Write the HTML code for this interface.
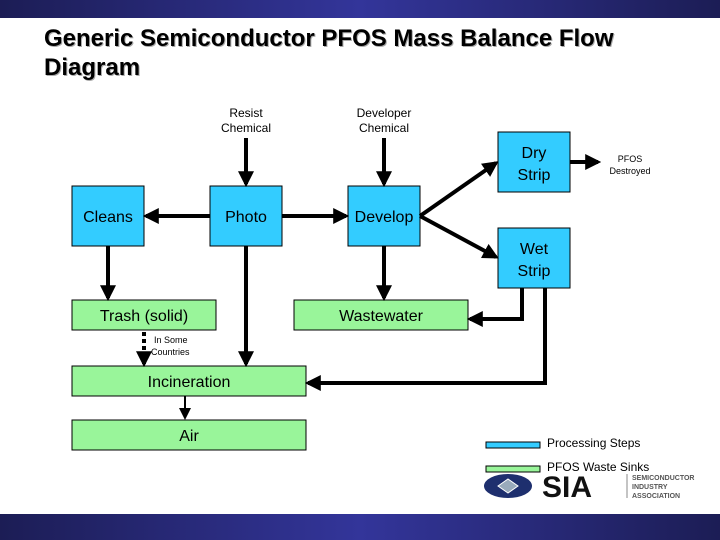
<!DOCTYPE html>
<html><head><meta charset="utf-8"><style>
html,body{margin:0;padding:0;background:#fff;}
svg{display:block;font-family:"Liberation Sans",Arial,sans-serif;}
</style></head><body>
<svg width="720" height="540" viewBox="0 0 720 540" xmlns="http://www.w3.org/2000/svg">
<defs>
<linearGradient id="bar" x1="0" x2="1" y1="0" y2="0">
<stop offset="0" stop-color="#1c1d55"/><stop offset="0.5" stop-color="#33359a"/><stop offset="1" stop-color="#1c1d55"/>
</linearGradient>
<marker id="a" markerWidth="4" markerHeight="4" refX="3.2" refY="2" orient="auto" markerUnits="strokeWidth"><path d="M0,0 L4,2 L0,4 z" fill="#000"/></marker>
<marker id="s" markerWidth="6" markerHeight="6" refX="5" refY="3" orient="auto" markerUnits="strokeWidth"><path d="M0,0 L6,3 L0,6 z" fill="#000"/></marker>
</defs>
<rect x="0" y="0" width="720" height="18" fill="url(#bar)"/>
<rect x="0" y="514" width="720" height="26" fill="url(#bar)"/>
<g font-size="24" font-weight="bold">
<text x="45" y="47" fill="#aaa">Generic Semiconductor PFOS Mass Balance Flow</text>
<text x="45" y="76" fill="#aaa">Diagram</text>
<text x="44" y="46" fill="#000">Generic Semiconductor PFOS Mass Balance Flow</text>
<text x="44" y="75" fill="#000">Diagram</text>
</g>

<g stroke="#000" stroke-width="1">
<rect x="72" y="186" width="72" height="60" fill="#33ccff"/>
<rect x="210" y="186" width="72" height="60" fill="#33ccff"/>
<rect x="348" y="186" width="72" height="60" fill="#33ccff"/>
<rect x="498" y="132" width="72" height="60" fill="#33ccff"/>
<rect x="498" y="228" width="72" height="60" fill="#33ccff"/>
<rect x="72" y="300" width="144" height="30" fill="#99f59a"/>
<rect x="294" y="300" width="174" height="30" fill="#99f59a"/>
<rect x="72" y="366" width="234" height="30" fill="#99f59a"/>
<rect x="72" y="420" width="234" height="30" fill="#99f59a"/>
<rect x="486" y="442" width="54" height="6" fill="#33ccff"/>
<rect x="486" y="466" width="54" height="6" fill="#99f59a"/>
</g>

<g stroke="#000" stroke-width="4" fill="none" marker-end="url(#a)">
<line x1="246" y1="138" x2="246" y2="184"/>
<line x1="384" y1="138" x2="384" y2="184"/>
<line x1="210" y1="216" x2="146" y2="216"/>
<line x1="282" y1="216" x2="346" y2="216"/>
<line x1="108" y1="246" x2="108" y2="298"/>
<line x1="384" y1="246" x2="384" y2="298"/>
<line x1="420" y1="216" x2="496" y2="163"/>
<line x1="420" y1="216" x2="496" y2="257"/>
<line x1="570" y1="162" x2="598" y2="162"/>
<line x1="246" y1="246" x2="246" y2="364"/>
<polyline points="522,288 522,319 470,319"/>
<polyline points="545,288 545,383 308,383"/>
<line x1="144" y1="332" x2="144" y2="364" stroke-dasharray="4,3"/>
</g>
<line x1="185" y1="396" x2="185" y2="418" stroke="#000" stroke-width="2" marker-end="url(#s)"/>

<g font-size="16" text-anchor="middle" fill="#000">
<text x="108" y="222">Cleans</text>
<text x="246" y="222">Photo</text>
<text x="384" y="222">Develop</text>
<text x="534" y="158">Dry</text><text x="534" y="180">Strip</text>
<text x="534" y="254">Wet</text><text x="534" y="276">Strip</text>
<text x="144" y="321">Trash (solid)</text>
<text x="381" y="321">Wastewater</text>
<text x="189" y="387">Incineration</text>
<text x="189" y="441">Air</text>
</g>
<g font-size="12" text-anchor="middle" fill="#000">
<text x="246" y="117">Resist</text><text x="246" y="132">Chemical</text>
<text x="384" y="117">Developer</text><text x="384" y="132">Chemical</text>
</g>
<g font-size="9" fill="#000">
<text x="630" y="162" text-anchor="middle">PFOS</text>
<text x="630" y="174" text-anchor="middle">Destroyed</text>
<text x="154" y="343">In Some</text>
<text x="151" y="355">Countries</text>
</g>
<text x="547" y="447" font-size="12">Processing Steps</text>
<text x="547" y="471" font-size="12">PFOS Waste Sinks</text>
<ellipse cx="508" cy="486" rx="24" ry="12" fill="#1e2f6e"/>
<path d="M498,486 L508,479 L518,486 L508,493 z" fill="#9ab" stroke="#fff" stroke-width="1"/>
<text x="542" y="497" font-size="30" font-weight="bold" fill="#111">SIA</text>
<line x1="627" y1="474" x2="627" y2="498" stroke="#888"/>
<g font-size="7" fill="#555" font-weight="bold"><text x="632" y="480">SEMICONDUCTOR</text><text x="632" y="489">INDUSTRY</text><text x="632" y="498">ASSOCIATION</text></g>
</svg>
</body></html>
